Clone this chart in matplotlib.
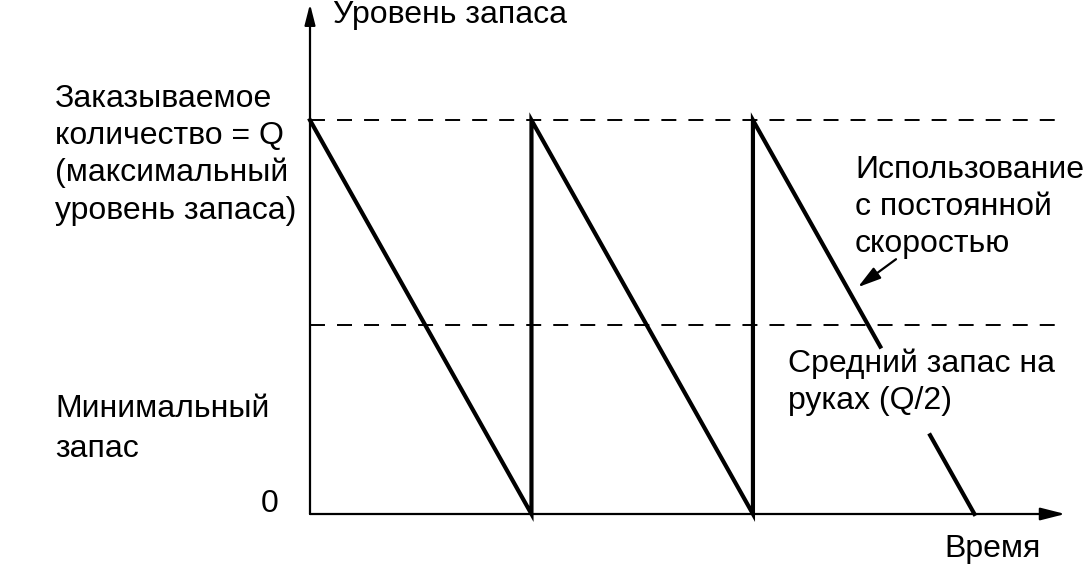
import matplotlib
matplotlib.use("Agg")
import matplotlib.pyplot as plt

# inventory level (fraction of Q) against time (in reorder periods)
Q = 1.0
avg_level = 0.48          # dashed "average stock" line as drawn
saw_t = [0, 1, 1, 2, 2, 2.575]
saw_q = [1, 0, 1, 0, 1, 0.425]
tail_t = [2.8, 3.0]
tail_q = [0.2, 0.0]
arrow_from = (2.646, 0.647)
arrow_to = (2.474, 0.576)

W, H = 1086, 580
fig = plt.figure(figsize=(W / 100, H / 100), dpi=100)
plt.rcParams['font.family'] = ['Liberation Sans', 'DejaVu Sans']

# axes placed so origin sits where the reference draws it
ax = fig.add_axes([310 / W, 66 / H, 753 / W, 508 / H])
ax.set_xlim(0, 3.4)
ax.set_ylim(0, 1.29)
ax.axis('off')

def px(x, y):
    return x / W, 1 - y / H

# axes with arrow heads
ax.annotate('', xy=(3.41, 0), xytext=(0, 0), annotation_clip=False,
            arrowprops=dict(arrowstyle='-|>,head_length=1.5,head_width=0.38',
                            lw=1.6, color='black', shrinkA=0, shrinkB=0))
ax.annotate('', xy=(0, 1.295), xytext=(0, 0), annotation_clip=False,
            arrowprops=dict(arrowstyle='-|>,head_length=1.25,head_width=0.32',
                            lw=1.6, color='black', shrinkA=0, shrinkB=0))

# reference levels
ax.plot([0, 3.377], [Q, Q], color='black', lw=1.4, dashes=(7.7, 6.2), clip_on=False)
ax.plot([0, 3.377], [avg_level, avg_level], color='black', lw=1.4, dashes=(7.7, 6.2), clip_on=False)

# sawtooth
ax.plot(saw_t, saw_q, color='black', lw=3.0, solid_joinstyle='miter', clip_on=False)
ax.plot(tail_t, tail_q, color='black', lw=3.0, clip_on=False)

ax.annotate('', xy=arrow_to, xytext=arrow_from, annotation_clip=False,
            arrowprops=dict(arrowstyle='-|>,head_length=1.4,head_width=0.4',
                            lw=1.6, color='black', shrinkA=0, shrinkB=0))

fs = 23

def label(lines, x, y0, step, ha='left'):
    for i, s in enumerate(lines):
        fig.text(*px(x, y0 + i * step), s, fontsize=fs, ha=ha, va='baseline')

label(['Уровень запаса'], 333, 23, 0)
label(['Заказываемое', 'количество = Q', '(максимальный', 'уровень запаса)'], 55, 107, 37.2)
label(['Минимальный', 'запас'], 55, 417, 40)
label(['0'], 278, 512, 0, ha='right')
label(['Использование', 'с постоянной', 'скоростью'], 855, 178, 37)
label(['Средний запас на', 'руках (Q/2)'], 788, 372, 37)
label(['Время'], 1041, 557, 0, ha='right')

fig.savefig('out.png', dpi=100)
